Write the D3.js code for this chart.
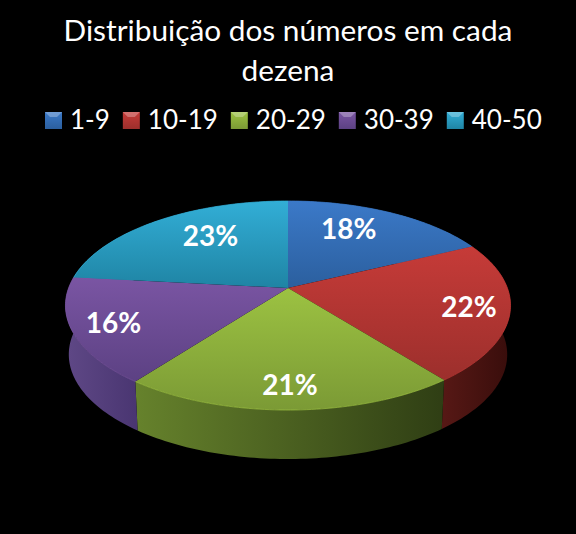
<!DOCTYPE html>
<html>
<head>
<meta charset="utf-8">
<script src="https://cdnjs.cloudflare.com/ajax/libs/d3/7.8.5/d3.min.js"></script>
<style>
  html, body { margin: 0; padding: 0; background: #000; }
  svg { display: block; }
  text { font-family: Lato, "Open Sans", sans-serif; fill: #fff; }
</style>
</head>
<body>
<svg id="chart" width="576" height="534"></svg>
<script>
const titleLines = ["Distribuição dos números em cada", "dezena"];
const categories = ["1-9", "10-19", "20-29", "30-39", "40-50"];
const shares = [17.8, 21.6, 20.9, 16.4, 23.3];

const topColors = ["#3b79c8", "#c63b38", "#9cc242", "#7a55a3", "#32aed6"];
const lowColors = ["#2b5f9e", "#9c2f2c", "#7b9a35", "#5c4183", "#1f84a4"];
const wallLeft = ["#2b5f9e", "#561815", "#66822c", "#5f4886", "#1f84a4"];
const wallRight = ["#1c3f6b", "#380d0b", "#2f3e14", "#4a3672", "#145a70"];

const width = 576, height = 534;
const svg = d3.select("#chart");
const defs = svg.append("defs");

// tilted disc: perspective projection of the unit circle
const cx = 288, cy = 288, rx = 219.4, ry = 101.6, persp = 0.1674, depth = 49;

function project(angle, r, drop) {
  const u = Math.sin(angle) * r, v = -Math.cos(angle) * r;
  const w = 1 - persp * v;
  const shrink = drop ? 0.985 : 1;
  return [cx + rx * shrink * u / w, cy + (drop || 0) + ry * v / w];
}

function rim(a0, a1, drop) {
  const n = Math.max(2, Math.ceil((a1 - a0) / 0.02));
  return d3.range(n + 1).map(i => project(a0 + (a1 - a0) * i / n, 1, drop));
}

const line = d3.line();
const pie = d3.pie().sort(null).value(d => d);
const arcs = pie(shares);

arcs.forEach((d, i) => {
  const top = defs.append("linearGradient").attr("id", "top" + i)
    .attr("x1", 0).attr("y1", 0).attr("x2", 0).attr("y2", 1);
  top.append("stop").attr("offset", "0%").attr("stop-color", topColors[i]);
  top.append("stop").attr("offset", "100%").attr("stop-color", lowColors[i]);

  const xs = rim(d.startAngle, d.endAngle, 0).map(p => p[0]);
  const wall = defs.append("linearGradient").attr("id", "wall" + i)
    .attr("gradientUnits", "userSpaceOnUse")
    .attr("x1", d3.min(xs)).attr("y1", 0).attr("x2", d3.max(xs)).attr("y2", 0);
  wall.append("stop").attr("offset", "0%").attr("stop-color", wallLeft[i]);
  wall.append("stop").attr("offset", "100%").attr("stop-color", wallRight[i]);
});

// side walls first, the top surface hides the back part of them
svg.append("g").selectAll("path")
  .data(arcs)
  .join("path")
  .attr("d", d => {
    const upper = rim(d.startAngle, d.endAngle, 0);
    const lower = rim(d.startAngle, d.endAngle, depth).reverse();
    return line(upper.concat(lower)) + "Z";
  })
  .attr("fill", (d, i) => `url(#wall${i})`);

svg.append("g").selectAll("path")
  .data(arcs)
  .join("path")
  .attr("d", d => line([[cx, cy]].concat(rim(d.startAngle, d.endAngle, 0))) + "Z")
  .attr("fill", (d, i) => `url(#top${i})`);

// lighter bevel along the rim
svg.append("g").selectAll("path")
  .data(arcs)
  .join("path")
  .attr("d", d => line(rim(d.startAngle, d.endAngle, 0)))
  .attr("fill", "none")
  .attr("stroke", (d, i) => topColors[i])
  .attr("stroke-width", 1)
  .attr("stroke-opacity", 0.7);

// percent labels
svg.append("g").selectAll("text")
  .data(arcs)
  .join("text")
  .attr("transform", d => {
    const mid = (d.startAngle + d.endAngle) / 2;
    let [x, y] = project(mid, 0.82, 0);
    if (Math.cos(mid) > 0.5) { // labels at the back sit closer to the middle
      x = cx + (x - cx) * 0.71;
      y += 4;
    }
    return `translate(${x},${y})`;
  })
  .attr("text-anchor", "middle")
  .attr("dy", "0.36em")
  .style("font-size", "28px")
  .style("font-weight", 700)
  .text(d => Math.round(d.value) + "%");

// title
svg.append("g").selectAll("text")
  .data(titleLines)
  .join("text")
  .attr("x", 288)
  .attr("y", (d, i) => 41 + i * 40)
  .attr("text-anchor", "middle")
  .style("font-size", "29.8px")
  .text(d => d);

// legend
const legend = svg.append("g");
let legendX = 45;
categories.forEach((c, i) => {
  const grad = defs.append("linearGradient").attr("id", "key" + i)
    .attr("x1", 0).attr("y1", 0).attr("x2", 0).attr("y2", 1);
  grad.append("stop").attr("offset", "0%").attr("stop-color", topColors[i]);
  grad.append("stop").attr("offset", "100%").attr("stop-color", lowColors[i]);
  legend.append("rect")
    .attr("x", legendX).attr("y", 112)
    .attr("width", 17).attr("height", 17)
    .attr("fill", `url(#key${i})`);
  // small bevel on the top edge of the key
  legend.append("path")
    .attr("d", line([[legendX, 112], [legendX + 17, 112], [legendX + 12, 117], [legendX + 5, 117]]) + "Z")
    .attr("fill", "#fff")
    .attr("fill-opacity", 0.28);
  const label = legend.append("text")
    .attr("x", legendX + 25).attr("y", 129)
    .style("font-size", "26px")
    .text(c);
  legendX += 25 + label.node().getComputedTextLength() + 13;
});
</script>
</body>
</html>
